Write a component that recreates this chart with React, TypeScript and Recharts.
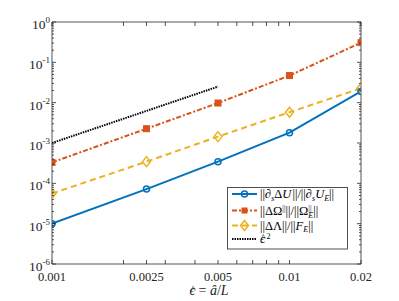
import { LineChart, Line, XAxis, YAxis } from "recharts";

const epsHat = [0.001, 0.0025, 0.005, 0.01, 0.02];
const errU = [1.0e-5, 7.2e-5, 3.45e-4, 1.8e-3, 1.9e-2];
const errOmega = [3.3e-4, 2.26e-3, 9.8e-3, 4.7e-2, 0.307];
const errLambda = [5.6e-5, 3.45e-4, 1.44e-3, 5.8e-3, 2.27e-2];
const epsSquared = [1e-3, 6.25e-3, 2.5e-2, null, null];

const xMajorTicks = [0.001, 0.0025, 0.005, 0.01, 0.02];
const xMinorTicks = [0.002, 0.003, 0.004, 0.006, 0.007, 0.008, 0.009];
const yDecades = [-6, -5, -4, -3, -2, -1, 0];

const yMajorTicks = yDecades.map((e) => Math.pow(10, e));
const yMinorTicks: number[] = [];
for (const e of yDecades.slice(0, -1)) {
  for (let m = 2; m <= 9; m++) yMinorTicks.push(m * Math.pow(10, e));
}

const data = epsHat.map((x, i) => ({
  x,
  u: errU[i],
  omega: errOmega[i],
  lambda: errLambda[i],
  eps2: epsSquared[i],
}));

const BLUE = "#0072BD";
const ORANGE = "#D95319";
const YELLOW = "#EDB120";
const AXIS = "#262626";
const FONT = "'Liberation Serif', 'Times New Roman', Times, 'DejaVu Serif', serif";
const txt = { fontFamily: FONT };

const isMajorX = (v: number) => xMajorTicks.some((t) => Math.abs(t - v) < 1e-9);
const isMajorY = (v: number) => yMajorTicks.some((t) => Math.abs(t / v - 1) < 1e-6);

const BottomTick = (props: any) => {
  const { x, y, payload } = props;
  const major = isMajorX(payload.value);
  return (
    <g>
      <line x1={x} x2={x} y1={y} y2={y - 4} stroke={AXIS} strokeWidth={0.8} />
      {major && (
        <text x={x} y={y + 17} textAnchor="middle" fontSize={12.5} style={txt} fill={AXIS}>
          {String(payload.value)}
        </text>
      )}
    </g>
  );
};

const TopTick = (props: any) => {
  const { x, y } = props;
  return <line x1={x} x2={x} y1={y} y2={y + 4} stroke={AXIS} strokeWidth={0.8} />;
};

const LeftTick = (props: any) => {
  const { x, y, payload } = props;
  const major = isMajorY(payload.value);
  const exp = Math.round(Math.log10(payload.value));
  return (
    <g>
      <line x1={x} x2={x + (major ? 4 : 2)} y1={y} y2={y} stroke={AXIS} strokeWidth={0.8} />
      {major && (
        <text x={x - 2} y={y + 7} textAnchor="end" fontSize={13.5} style={txt} fill={AXIS}>
          10
          <tspan fontSize={9} dy={-6}>{String(exp)}</tspan>
        </text>
      )}
    </g>
  );
};

const RightTick = (props: any) => {
  const { x, y, payload } = props;
  const major = isMajorY(payload.value);
  return <line x1={x} x2={x - (major ? 4 : 2)} y1={y} y2={y} stroke={AXIS} strokeWidth={0.8} />;
};

const CircleDot = (props: any) => {
  const { cx, cy, index } = props;
  if (cx == null || cy == null) return <g key={index} />;
  return <circle key={index} cx={cx} cy={cy} r={3} fill="none" stroke={BLUE} strokeWidth={1.5} />;
};

const SquareDot = (props: any) => {
  const { cx, cy, index } = props;
  if (cx == null || cy == null) return <g key={index} />;
  return <rect key={index} x={cx - 3} y={cy - 3} width={6} height={6} fill={ORANGE} stroke={ORANGE} strokeWidth={1} />;
};

const DiamondDot = (props: any) => {
  const { cx, cy, index } = props;
  if (cx == null || cy == null) return <g key={index} />;
  return (
    <polygon
      key={index}
      points={`${cx},${cy - 5} ${cx + 4},${cy} ${cx},${cy + 5} ${cx - 4},${cy}`}
      fill="none"
      stroke={YELLOW}
      strokeWidth={1.5}
    />
  );
};

// lunate epsilon with a small hat glyph placed over it
const HatEps = ({ x, y, size, fill }: { x: number; y: number; size: number; fill: string }) => (
  <g>
    <text x={x} y={y} fontSize={size} fontStyle="italic" style={txt} fill={fill}>ϵ</text>
    <text x={x + size * 0.08} y={y - size * 0.14} fontSize={size * 0.75} style={txt} fill={fill}>^</text>
  </g>
);

const XLabel = (props: any) => {
  const { viewBox } = props;
  const cx = viewBox.x + viewBox.width / 2;
  const by = viewBox.y + 31;
  return (
    <g>
      <HatEps x={cx - 17} y={by} size={14} fill={AXIS} />
      <text x={cx - 8} y={by} fontSize={14} style={txt} fill={AXIS}>
        = <tspan fontStyle="italic">â</tspan>/<tspan fontStyle="italic">L</tspan>
      </text>
    </g>
  );
};

const LegendBox = () => {
  const rows = [194, 210.5, 225.5, 239];
  const fs = 12.5;
  const sub = 8;
  return (
    <svg width={399} height={301} style={{ position: "absolute", left: 0, top: 0, pointerEvents: "none" }}>
      <rect x={227.5} y={187.5} width={120} height={61.5} fill="#fff" stroke={AXIS} strokeWidth={0.8} />
      <line x1={232} x2={257} y1={rows[0]} y2={rows[0]} stroke={BLUE} strokeWidth={2} />
      <circle cx={244.5} cy={rows[0]} r={3} fill="none" stroke={BLUE} strokeWidth={1.5} />
      <line x1={232} x2={257} y1={rows[1]} y2={rows[1]} stroke={ORANGE} strokeWidth={2} strokeDasharray="5 2 2 2" />
      <rect x={241.5} y={rows[1] - 3} width={6} height={6} fill={ORANGE} />
      <line x1={232} x2={257} y1={rows[2]} y2={rows[2]} stroke={YELLOW} strokeWidth={2} strokeDasharray="6 4" />
      <polygon
        points={`244.5,${rows[2] - 5} 248.5,${rows[2]} 244.5,${rows[2] + 5} 240.5,${rows[2]}`}
        fill="none"
        stroke={YELLOW}
        strokeWidth={1.5}
      />
      <line x1={232} x2={257} y1={rows[3]} y2={rows[3]} stroke="#000" strokeWidth={2} strokeDasharray="1.5 1" />

      <text x={260} y={rows[0] + 4} fontSize={fs} style={txt} fill="#000">
        ||∂<tspan fontSize={sub} dy={2.5} fontStyle="italic">s</tspan>
        <tspan dy={-2.5}>Δ</tspan>
        <tspan fontStyle="italic">U</tspan>
        <tspan dx={1}>||/||∂</tspan>
        <tspan fontSize={sub} dy={2.5} fontStyle="italic">s</tspan>
        <tspan dy={-2.5} fontStyle="italic">U</tspan>
        <tspan fontSize={sub} dy={2.5} fontStyle="italic">E</tspan>
        <tspan dy={-2.5}>||</tspan>
      </text>
      <text x={260} y={rows[1] + 4} fontSize={fs} style={txt} fill="#000">
        ||ΔΩ<tspan fontSize={sub} dy={-4}>||</tspan>
        <tspan dy={4}>||/||Ω</tspan>
        <tspan fontSize={sub} dy={3} fontStyle="italic">E</tspan>
        <tspan fontSize={sub} dx={-4.9} dy={-7}>||</tspan>
        <tspan dx={1.7} dy={4}>||</tspan>
      </text>
      <text x={260} y={rows[2] + 4} fontSize={fs} style={txt} fill="#000">
        ||ΔΛ||/||<tspan fontStyle="italic">F</tspan>
        <tspan fontSize={sub} dy={2.5} fontStyle="italic">E</tspan>
        <tspan dy={-2.5}>||</tspan>
      </text>
      <HatEps x={260} y={rows[3] + 4} size={12.5} fill="#000" />
      <text x={266.5} y={rows[3] - 0.5} fontSize={sub} style={txt} fill="#000">2</text>
    </svg>
  );
};

export default function App() {
  return (
    <div style={{ position: "absolute", left: 0, top: 0, width: 399, height: 301, background: "#fff", fontFamily: FONT }}>
      <LineChart width={399} height={301} data={data} margin={{ top: 21, right: 37, bottom: 0, left: 0 }}>
        <XAxis
          xAxisId="bottom"
          dataKey="x"
          type="number"
          scale="log"
          domain={[0.001, 0.02]}
          allowDataOverflow
          ticks={[...xMajorTicks, ...xMinorTicks]}
          interval={0}
          height={37}
          tickSize={0}
          tickMargin={0}
          tickLine={false}
          tick={BottomTick}
          axisLine={{ stroke: AXIS, strokeWidth: 0.8 }}
          label={<XLabel />}
        />
        <XAxis
          xAxisId="top"
          orientation="top"
          dataKey="x"
          type="number"
          scale="log"
          domain={[0.001, 0.02]}
          allowDataOverflow
          ticks={[...xMajorTicks, ...xMinorTicks]}
          interval={0}
          height={1}
          tickSize={0}
          tickMargin={0}
          tickLine={false}
          tick={TopTick}
          axisLine={{ stroke: AXIS, strokeWidth: 0.8 }}
        />
        <YAxis
          yAxisId="left"
          type="number"
          scale="log"
          domain={[1e-6, 1]}
          allowDataOverflow
          ticks={[...yMajorTicks, ...yMinorTicks]}
          interval={0}
          width={52}
          tickSize={0}
          tickMargin={0}
          tickLine={false}
          tick={LeftTick}
          axisLine={{ stroke: AXIS, strokeWidth: 0.8 }}
        />
        <YAxis
          yAxisId="right"
          orientation="right"
          type="number"
          scale="log"
          domain={[1e-6, 1]}
          allowDataOverflow
          ticks={[...yMajorTicks, ...yMinorTicks]}
          interval={0}
          width={1}
          tickSize={0}
          tickMargin={0}
          tickLine={false}
          tick={RightTick}
          axisLine={{ stroke: AXIS, strokeWidth: 0.8 }}
        />
        <Line
          xAxisId="bottom"
          yAxisId="left"
          dataKey="eps2"
          stroke="#000"
          strokeWidth={2}
          strokeDasharray="1.5 1"
          dot={false}
          isAnimationActive={false}
        />
        <Line
          xAxisId="bottom"
          yAxisId="left"
          dataKey="lambda"
          stroke={YELLOW}
          strokeWidth={2}
          strokeDasharray="6 4"
          dot={DiamondDot}
          isAnimationActive={false}
        />
        <Line
          xAxisId="bottom"
          yAxisId="left"
          dataKey="omega"
          stroke={ORANGE}
          strokeWidth={2}
          strokeDasharray="5 2 2 2"
          dot={SquareDot}
          isAnimationActive={false}
        />
        <Line
          xAxisId="bottom"
          yAxisId="left"
          dataKey="u"
          stroke={BLUE}
          strokeWidth={2}
          dot={CircleDot}
          isAnimationActive={false}
        />
      </LineChart>
      <LegendBox />
    </div>
  );
}
